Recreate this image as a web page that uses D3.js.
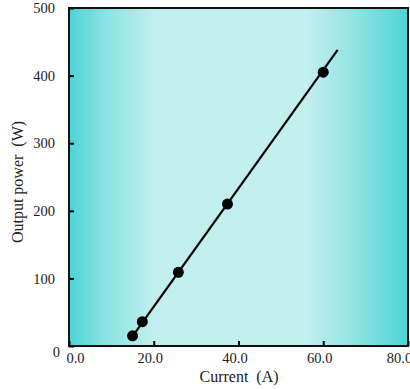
<!DOCTYPE html>
<html>
<head>
<meta charset="utf-8">
<script src="https://cdn.jsdelivr.net/npm/d3@7"></script>
<style>
  body { margin: 0; background: #fff; }
  svg text { font-family: "Liberation Serif", "DejaVu Serif", serif; }
</style>
</head>
<body>
<div id="chart"></div>
<script>
// measured points
const currentA = [15.0, 17.3, 25.8, 37.4, 60.0];
const powerW = [15, 36, 109, 210, 405];
// fitted line end points
const fitX = [14.6, 63.4];
const fitY = [11, 438];
const xTicks = [0, 20, 40, 60, 80];
const yTicks = [0, 100, 200, 300, 400, 500];

const width = 410, height = 389;
const marginLeft = 69, marginRight = 2, marginTop = 8, marginBottom = 43;

const x = d3.scaleLinear([0, 80], [marginLeft, width - marginRight]);
const y = d3.scaleLinear([0, 500], [height - marginBottom, marginTop]);

const svg = d3.select('#chart')
  .append('svg')
  .attr('width', width)
  .attr('height', height);

// background gradient
const grad = svg.append('defs').append('linearGradient')
  .attr('id', 'bg')
  .attr('x1', '0%').attr('x2', '100%').attr('y1', '0%').attr('y2', '0%');
[[0, '#4cd4d4'], [0.1, '#86e1e1'], [0.25, '#c2eeee'], [0.7, '#c4efef'],
 [0.85, '#8ee2e2'], [1, '#4cd4d4']].forEach(([o, c]) =>
  grad.append('stop').attr('offset', o).attr('stop-color', c));

svg.append('rect')
  .attr('x', x(0)).attr('y', y(500))
  .attr('width', x(80) - x(0)).attr('height', y(0) - y(500))
  .attr('fill', 'url(#bg)');

// axes (ticks inward)
const gx = svg.append('g')
  .attr('transform', `translate(0,${y(0)})`)
  .call(d3.axisBottom(x).tickValues(xTicks).tickSize(-5).tickSizeOuter(0)
    .tickFormat(d3.format('.1f')));
gx.selectAll('text')
  .attr('dy', 0)
  .attr('y', 17)
  .attr('dx', (d) => d === 0 ? 6 : d === 80 ? -9 : -4);

const gy = svg.append('g')
  .attr('transform', `translate(${x(0)},0)`)
  .call(d3.axisLeft(y).tickValues(yTicks).tickSize(-5).tickSizeOuter(0));
gy.selectAll('text').attr('x', -14).attr('dy', '0.32em');
gy.selectAll('.tick').filter((d) => d === 0).select('text').attr('dy', '0.7em').attr('x', -9);

svg.selectAll('.domain').remove();
svg.selectAll('.tick line').attr('stroke', '#000').attr('stroke-width', 2);
svg.selectAll('.tick text')
  .attr('font-size', 14.5)
  .attr('fill', '#222')
  .attr('font-family', '"Liberation Serif", serif');

// frame
svg.append('rect')
  .attr('x', x(0)).attr('y', y(500))
  .attr('width', x(80) - x(0)).attr('height', y(0) - y(500))
  .attr('fill', 'none').attr('stroke', '#111').attr('stroke-width', 2);

// fit line
svg.append('line')
  .attr('x1', x(fitX[0])).attr('y1', y(fitY[0]))
  .attr('x2', x(fitX[1])).attr('y2', y(fitY[1]))
  .attr('stroke', '#000').attr('stroke-width', 2.2);

// points
svg.append('g')
  .selectAll('circle')
  .data(currentA)
  .join('circle')
  .attr('cx', (d) => x(d))
  .attr('cy', (d, i) => y(powerW[i]))
  .attr('r', 5.5)
  .attr('fill', '#000');

// titles
svg.append('text')
  .attr('x', 239).attr('y', 382)
  .attr('text-anchor', 'middle')
  .attr('font-size', 16)
  .attr('fill', '#222')
  .attr('xml:space', 'preserve')
  .text('Current  (A)');

svg.append('text')
  .attr('transform', 'translate(23,182) rotate(-90)')
  .attr('text-anchor', 'middle')
  .attr('font-size', 16)
  .attr('fill', '#222')
  .attr('xml:space', 'preserve')
  .text('Output power  (W)');
</script>
</body>
</html>
